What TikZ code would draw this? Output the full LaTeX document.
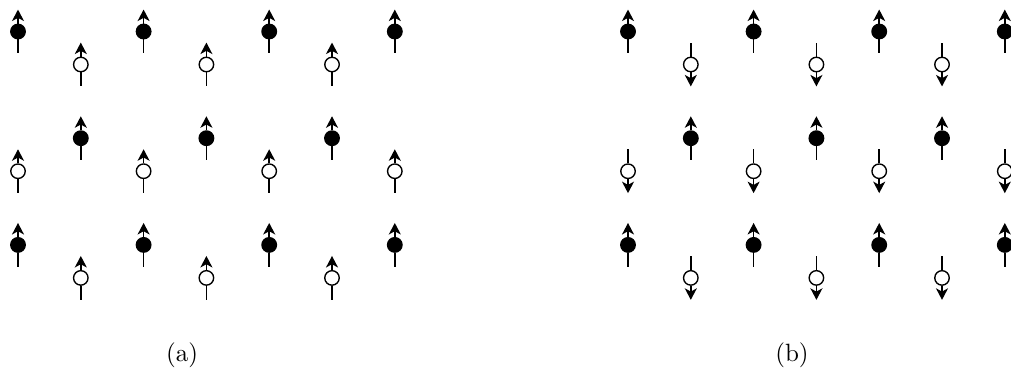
\documentclass[tikz,border=0pt]{standalone}
\usepackage{tikz}
\usetikzlibrary{
    arrows.meta
}

\begin{document}
\begin{tikzpicture}[
    x=0.4pt,
    y=0.4pt,
    site/.style={
        circle,
        draw,
        line width=0.55pt,
        inner sep=0pt,
        minimum size=5.8pt
    },
    fullsite/.style={
        site,
        fill=black
    },
    opensite/.style={
        site,
        fill=white
    },
    spin/.style={
        -{Stealth[length=4.6pt,width=4.8pt,inset=1.3pt]},
        line width=0.6pt
    },
    stem/.style={
        line width=0.6pt
    },
    caption/.style={
        font=\normalsize
    }
]

\useasboundingbox (0,0) rectangle (1011,369);

% panel (a): all spins up

\foreach \r/\y in {0/337.5, 2/124.1} {
    \foreach \c in {0,2,4,6} {
        \node[fullsite] (a-\r-\c) at (18+62.8*\c,\y) {};
        \draw[stem] (a-\r-\c.south) -- ++(0,-14);
        \draw[spin] (a-\r-\c.north) -- ++(0,14);
    }
    \foreach \c in {1,3,5} {
        \node[opensite] (a-\r-\c) at (18+62.8*\c,\y-33) {};
        \draw[stem] (a-\r-\c.south) -- ++(0,-14);
        \draw[spin] (a-\r-\c.north) -- ++(0,14);
    }
}

\foreach \c in {1,3,5} {
    \node[fullsite] (a-1-\c) at (18+62.8*\c,230.8) {};
    \draw[stem] (a-1-\c.south) -- ++(0,-14);
    \draw[spin] (a-1-\c.north) -- ++(0,14);
}
\foreach \c in {0,2,4,6} {
    \node[opensite] (a-1-\c) at (18+62.8*\c,197.8) {};
    \draw[stem] (a-1-\c.south) -- ++(0,-14);
    \draw[spin] (a-1-\c.north) -- ++(0,14);
}

% panel (b): open sites flipped

\foreach \r/\y in {0/337.5, 2/124.1} {
    \foreach \c in {0,2,4,6} {
        \node[fullsite] (b-\r-\c) at (628+62.8*\c,\y) {};
        \draw[stem] (b-\r-\c.south) -- ++(0,-14);
        \draw[spin] (b-\r-\c.north) -- ++(0,14);
    }
    \foreach \c in {1,3,5} {
        \node[opensite] (b-\r-\c) at (628+62.8*\c,\y-33) {};
        \draw[stem] (b-\r-\c.north) -- ++(0,14);
        \draw[spin] (b-\r-\c.south) -- ++(0,-14);
    }
}

\foreach \c in {1,3,5} {
    \node[fullsite] (b-1-\c) at (628+62.8*\c,230.8) {};
    \draw[stem] (b-1-\c.south) -- ++(0,-14);
    \draw[spin] (b-1-\c.north) -- ++(0,14);
}
\foreach \c in {0,2,4,6} {
    \node[opensite] (b-1-\c) at (628+62.8*\c,197.8) {};
    \draw[stem] (b-1-\c.north) -- ++(0,14);
    \draw[spin] (b-1-\c.south) -- ++(0,-14);
}

% captions

\node[caption] (capa) at (182,14) {(a)};
\node[caption] (capb) at (792,14) {(b)};

\end{tikzpicture}
\end{document}
